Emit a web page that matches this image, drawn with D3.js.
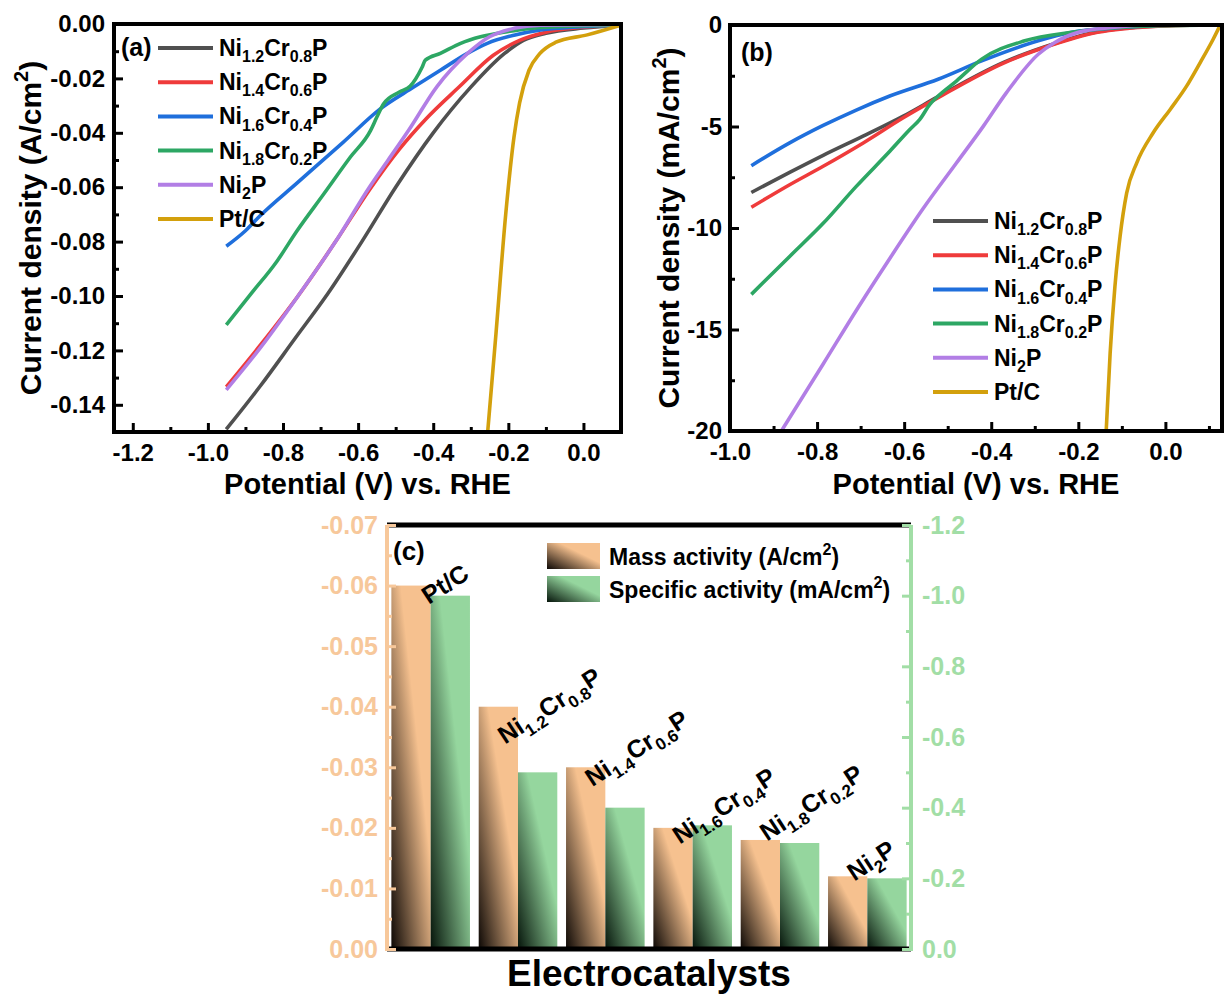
<!DOCTYPE html>
<html lang="en">
<head>
<meta charset="UTF-8">
<title>LSV curves and activities</title>
<script src="https://d3js.org/d3.v7.min.js"></script>
<style>
  body, html { margin: 0; background: #fff; }
  svg { display: block; font-family: "Liberation Sans", Arial, sans-serif; font-weight: bold; }
</style>
</head>
<body>
<svg width="1225" height="997"></svg>
<script>
// ---- data ----
// names use {..} for subscripts and [..] for superscripts
const seriesNames = ["Ni{1.2}Cr{0.8}P", "Ni{1.4}Cr{0.6}P", "Ni{1.6}Cr{0.4}P", "Ni{1.8}Cr{0.2}P", "Ni{2}P", "Pt/C"];
const seriesColors = ["#505050", "#ef3b3b", "#1f6fdc", "#2da764", "#b27ee5", "#d3a00c"];

// panel (a): [potential V, current density A/cm2]
const aNi12Cr08P = [[-0.951,-0.149],[-0.86,-0.133],[-0.77,-0.116],[-0.68,-0.099],[-0.59,-0.080],[-0.50,-0.060],[-0.40,-0.040],[-0.30,-0.0232],[-0.21,-0.0108],[-0.16,-0.006],[-0.10,-0.0034],[0.0,-0.0015],[0.1,-0.0004]];
const aNi14Cr06P = [[-0.951,-0.1334],[-0.86,-0.118],[-0.76,-0.100],[-0.66,-0.080],[-0.57,-0.061],[-0.49,-0.046],[-0.42,-0.035],[-0.33,-0.023],[-0.24,-0.0115],[-0.17,-0.006],[-0.10,-0.003],[0.0,-0.0012],[0.1,-0.0004]];
const aNi16Cr04P = [[-0.951,-0.0817],[-0.90,-0.0760],[-0.861,-0.0705],[-0.763,-0.0585],[-0.64,-0.0435],[-0.541,-0.0312],[-0.452,-0.0232],[-0.381,-0.0170],[-0.309,-0.0108],[-0.256,-0.0071],[-0.185,-0.0041],[-0.114,-0.0022],[-0.007,-0.0010],[0.1,-0.0004]];
const aNi18Cr02P = [[-0.951,-0.1106],[-0.887,-0.0995],[-0.816,-0.0872],[-0.763,-0.0761],[-0.692,-0.0626],[-0.621,-0.0490],[-0.567,-0.0392],[-0.550,-0.0342],[-0.532,-0.0293],[-0.49,-0.0250],[-0.461,-0.0228],[-0.43,-0.0160],[-0.421,-0.0133],[-0.381,-0.0108],[-0.327,-0.0071],[-0.274,-0.0047],[-0.203,-0.0028],[-0.141,-0.0016],[-0.016,-0.0007],[0.1,-0.0004]];
const aNi2P = [[-0.951,-0.1345],[-0.86,-0.119],[-0.76,-0.100],[-0.66,-0.080],[-0.57,-0.060],[-0.52,-0.050],[-0.465,-0.039],[-0.39,-0.023],[-0.31,-0.011],[-0.25,-0.0047],[-0.185,-0.0016],[-0.114,-0.0004],[0.1,-0.0002]];
const aPtC = [[-0.255,-0.150],[-0.233,-0.114],[-0.207,-0.0700],[-0.185,-0.0416],[-0.170,-0.0290],[-0.145,-0.0170],[-0.117,-0.0110],[-0.075,-0.0068],[0.01,-0.0040],[0.1,-0.0004]];

// panel (b): [potential V, current density mA/cm2]
const bNi12Cr08P = [[-0.951,-8.25],[-0.863,-7.26],[-0.786,-6.42],[-0.687,-5.40],[-0.602,-4.49],[-0.522,-3.53],[-0.369,-1.82],[-0.254,-0.91],[-0.177,-0.43],[-0.062,-0.10],[0.057,-0.01],[0.13,0]];
const bNi14Cr06P = [[-0.951,-8.98],[-0.863,-7.87],[-0.786,-6.96],[-0.694,-5.81],[-0.602,-4.57],[-0.522,-3.58],[-0.369,-1.85],[-0.254,-0.94],[-0.177,-0.45],[-0.062,-0.12],[0.057,-0.01],[0.13,0]];
const bNi16Cr04P = [[-0.951,-6.93],[-0.863,-5.81],[-0.786,-4.95],[-0.710,-4.19],[-0.633,-3.50],[-0.522,-2.67],[-0.422,-1.77],[-0.292,-0.78],[-0.215,-0.36],[-0.100,-0.12],[0.057,0],[0.13,0]];
const bNi18Cr02P = [[-0.951,-13.27],[-0.863,-11.40],[-0.786,-9.77],[-0.710,-7.95],[-0.633,-6.22],[-0.587,-5.15],[-0.564,-4.65],[-0.541,-3.91],[-0.522,-3.50],[-0.480,-2.76],[-0.422,-1.68],[-0.323,-0.78],[-0.215,-0.36],[-0.139,-0.17],[-0.020,-0.03],[0.13,0]];
const bNi2P = [[-0.882,-20.0],[-0.786,-16.7],[-0.710,-14.06],[-0.633,-11.5],[-0.556,-9.03],[-0.480,-6.80],[-0.418,-4.98],[-0.365,-3.33],[-0.292,-1.44],[-0.254,-0.86],[-0.200,-0.36],[-0.123,-0.12],[-0.020,0],[0.13,0]];
const bPtC = [[-0.136,-20],[-0.127,-16.2],[-0.116,-12.9],[-0.104,-10.4],[-0.089,-8.28],[-0.066,-6.80],[-0.028,-5.31],[0.011,-4.16],[0.049,-3.00],[0.080,-1.85],[0.110,-0.69],[0.126,0]];

// panel (c)
const catalysts = ["Pt/C", "Ni{1.2}Cr{0.8}P", "Ni{1.4}Cr{0.6}P", "Ni{1.6}Cr{0.4}P", "Ni{1.8}Cr{0.2}P", "Ni{2}P"];
const massActivity = [-0.060, -0.040, -0.030, -0.020, -0.018, -0.012];       // A/cm2
const specificActivity = [-1.00, -0.50, -0.40, -0.35, -0.30, -0.20];         // mA/cm2
const labelAt = [-0.0568, -0.0337, -0.0267, -0.0172, -0.0177, -0.0111];       // label anchor, left-axis units

const svg = d3.select("svg");
const defs = svg.append("defs");

// text with sub/superscripts
function richText(sel, str, size) {
    const small = Math.round(size * 0.68);
    let cur = 0;
    str.split(/(\{[^}]*\}|\[[^\]]*\])/).filter(s => s).forEach(s => {
        let off = 0, fs = size, t = s;
        if (s[0] === "{") { off = size * 0.27; fs = small; t = s.slice(1, -1); }
        else if (s[0] === "[") { off = -size * 0.42; fs = small; t = s.slice(1, -1); }
        sel.append("tspan").attr("font-size", fs).attr("dy", (off - cur).toFixed(2)).text(t);
        cur = off;
    });
    return sel;
}

function styleAxis(g, color, size) {
    g.attr("font-size", null).attr("font-family", null);
    g.select(".domain").remove();
    g.selectAll(".tick line").attr("stroke", color).attr("stroke-width", 3);
    g.selectAll(".tick text").attr("fill", color).style("font-size", size + "px");
}

const line = (x, y) => d3.line().x(d => x(d[0])).y(d => y(d[1])).curve(d3.curveMonotoneX);

// ---- LSV panels ----
function lsvPanel(p) {
    const x = d3.scaleLinear().domain(p.xDomain).range([p.left, p.right]);
    const y = d3.scaleLinear().domain(p.yDomain).range([p.bottom, p.top]);
    const g = svg.append("g");

    defs.append("clipPath").attr("id", p.id)
        .append("rect").attr("x", p.left).attr("y", p.top)
        .attr("width", p.right - p.left).attr("height", p.bottom - p.top);

    g.append("g").attr("clip-path", `url(#${p.id})`)
        .selectAll("path").data(p.series).join("path")
        .attr("d", d => line(x, y)(d))
        .attr("fill", "none")
        .attr("stroke", (d, i) => seriesColors[i])
        .attr("stroke-width", 3.6)
        .attr("stroke-linejoin", "round");

    // minor ticks
    g.append("g").attr("transform", `translate(0,${p.bottom})`)
        .call(d3.axisBottom(x).tickValues(p.xMinor).tickSize(-5).tickFormat(""))
        .call(s => styleAxis(s, "#000", 24));
    g.append("g").attr("transform", `translate(${p.left},0)`)
        .call(d3.axisLeft(y).tickValues(p.yMinor).tickSize(-5).tickFormat(""))
        .call(s => styleAxis(s, "#000", 24));
    // major ticks
    g.append("g").attr("transform", `translate(0,${p.bottom})`)
        .call(d3.axisBottom(x).tickValues(p.xTicks).tickSize(-9).tickPadding(12).tickFormat(d => d.toFixed(1)))
        .call(s => styleAxis(s, "#000", 24));
    g.append("g").attr("transform", `translate(${p.left},0)`)
        .call(d3.axisLeft(y).tickValues(p.yTicks).tickSize(-9).tickPadding(p.yPad).tickFormat(p.yFormat))
        .call(s => styleAxis(s, "#000", 24));

    g.append("rect").attr("x", p.left).attr("y", p.top)
        .attr("width", p.right - p.left).attr("height", p.bottom - p.top)
        .attr("fill", "none").attr("stroke", "#000").attr("stroke-width", 4);

    g.append("text").attr("x", p.tagX).attr("y", p.tagY).attr("font-size", 25).text(p.tag);

    // legend
    const lg = g.append("g").selectAll("g").data(seriesNames).join("g")
        .attr("transform", (d, i) => `translate(${p.legX},${p.legY + i * 34.2})`);
    lg.append("line").attr("x1", 0).attr("x2", 55)
        .attr("stroke", (d, i) => seriesColors[i]).attr("stroke-width", 4);
    lg.append("text").attr("x", 61).attr("y", 8).each(function (d) { richText(d3.select(this), d, 23); });

    // axis titles
    g.append("text").attr("x", (p.left + p.right) / 2).attr("y", 494)
        .attr("text-anchor", "middle").attr("font-size", 29).text("Potential (V) vs. RHE");
    richText(g.append("text").attr("text-anchor", "middle")
        .attr("transform", `translate(${p.yTitleX},${(p.top + p.bottom) / 2}) rotate(-90)`), p.yTitle, 30);
}

lsvPanel({
    id: "clipA", left: 114, right: 621, top: 24, bottom: 432,
    xDomain: [-1.25, 0.1], yDomain: [-0.15, 0],
    xTicks: d3.range(7).map(i => -1.2 + i * 0.2),
    xMinor: d3.range(7).map(i => -1.1 + i * 0.2),
    yTicks: d3.range(8).map(i => -i * 0.02),
    yMinor: d3.range(8).map(i => -0.01 - i * 0.02),
    yFormat: d => d.toFixed(2), yPad: 9,
    series: [aNi12Cr08P, aNi14Cr06P, aNi16Cr04P, aNi18Cr02P, aNi2P, aPtC],
    tag: "(a)", tagX: 121, tagY: 56,
    legX: 158, legY: 48,
    yTitle: "Current density (A/cm[2])", yTitleX: 41
});

lsvPanel({
    id: "clipB", left: 730, right: 1222, top: 25, bottom: 431,
    xDomain: [-1.0, 0.13], yDomain: [-20, 0],
    xTicks: d3.range(6).map(i => -1.0 + i * 0.2),
    xMinor: d3.range(6).map(i => -0.9 + i * 0.2),
    yTicks: d3.range(5).map(i => -i * 5),
    yMinor: d3.range(4).map(i => -2.5 - i * 5),
    yFormat: d => d.toFixed(0), yPad: 8,
    series: [bNi12Cr08P, bNi14Cr06P, bNi16Cr04P, bNi18Cr02P, bNi2P, bPtC],
    tag: "(b)", tagX: 741, tagY: 61,
    legX: 933, legY: 221,
    yTitle: "Current density (mA/cm[2])", yTitleX: 679
});

// ---- panel (c) bars ----
const orange = "#f7c89b", green = "#a2dea6";
function grad(id, dark, light) {
    const gr = defs.append("linearGradient").attr("id", id)
        .attr("x1", 0).attr("y1", 1).attr("x2", 1).attr("y2", 0);
    gr.append("stop").attr("offset", 0).attr("stop-color", dark);
    gr.append("stop").attr("offset", 0.62).attr("stop-color", light);
    gr.append("stop").attr("offset", 1).attr("stop-color", light);
}
grad("gMass", "#0d0805", "#f6c18f");
grad("gSpec", "#06150b", "#95d69e");

const cL = 387, cR = 911, cT = 525, cB = 949;
const xC = d3.scaleBand().domain(catalysts).range([cL, cR]).paddingInner(0.1).paddingOuter(0.05);
const xSub = d3.scaleBand().domain(["mass", "spec"]).range([0, xC.bandwidth()]);
const yL = d3.scaleLinear().domain([0, -0.07]).range([cB, cT]);
const yR = d3.scaleLinear().domain([0, -1.2]).range([cB, cT]);

const gc = svg.append("g");
gc.append("g").selectAll("rect").data(catalysts).join("rect")
    .attr("x", d => xC(d) + xSub("mass"))
    .attr("y", (d, i) => yL(massActivity[i]))
    .attr("width", xSub.bandwidth())
    .attr("height", (d, i) => yL(0) - yL(massActivity[i]))
    .attr("fill", "url(#gMass)");
gc.append("g").selectAll("rect").data(catalysts).join("rect")
    .attr("x", d => xC(d) + xSub("spec"))
    .attr("y", (d, i) => yR(specificActivity[i]))
    .attr("width", xSub.bandwidth())
    .attr("height", (d, i) => yR(0) - yR(specificActivity[i]))
    .attr("fill", "url(#gSpec)");

// rotated catalyst labels
gc.append("g").selectAll("text").data(catalysts).join("text")
    .attr("transform", (d, i) => `translate(${xC(d) + xC.bandwidth() / 2 - (i ? 13 : 2)},${yL(labelAt[i])}) rotate(-33)`)
    .each(function (d) { richText(d3.select(this), d, 25); });

// frame lines
gc.append("line").attr("x1", cL).attr("x2", cR).attr("y1", cT).attr("y2", cT).attr("stroke", "#000").attr("stroke-width", 5);
gc.append("line").attr("x1", cL).attr("x2", cR).attr("y1", cB).attr("y2", cB).attr("stroke", "#000").attr("stroke-width", 5);

// left axis (mass activity)
gc.append("g").attr("transform", `translate(${cL},0)`)
    .call(d3.axisLeft(yL).tickValues(d3.range(7).map(i => -0.005 - i * 0.01)).tickSize(-5).tickFormat(""))
    .call(s => styleAxis(s, orange, 25));
gc.append("g").attr("transform", `translate(${cL},0)`)
    .call(d3.axisLeft(yL).tickValues(d3.range(8).map(i => -i * 0.01)).tickSize(-9).tickPadding(9).tickFormat(d => d.toFixed(2)))
    .call(s => styleAxis(s, orange, 25));
gc.append("line").attr("x1", cL).attr("x2", cL).attr("y1", cT).attr("y2", cB + 2).attr("stroke", orange).attr("stroke-width", 4);

// right axis (specific activity)
gc.append("g").attr("transform", `translate(${cR},0)`)
    .call(d3.axisRight(yR).tickValues(d3.range(6).map(i => -0.1 - i * 0.2)).tickSize(-5).tickFormat(""))
    .call(s => styleAxis(s, green, 25));
gc.append("g").attr("transform", `translate(${cR},0)`)
    .call(d3.axisRight(yR).tickValues(d3.range(7).map(i => -i * 0.2)).tickSize(-9).tickPadding(11).tickFormat(d => d.toFixed(1)))
    .call(s => styleAxis(s, green, 25));
gc.append("line").attr("x1", cR).attr("x2", cR).attr("y1", cT).attr("y2", cB + 2).attr("stroke", green).attr("stroke-width", 4);

gc.append("text").attr("x", 393).attr("y", 560).attr("font-size", 26).text("(c)");

// legend (c)
const legC = [["gMass", "Mass activity (A/cm[2])"], ["gSpec", "Specific activity (mA/cm[2])"]];
const lc = gc.append("g").selectAll("g").data(legC).join("g")
    .attr("transform", (d, i) => `translate(547,${543 + i * 33})`);
lc.append("rect").attr("width", 53).attr("height", 26).attr("fill", d => `url(#${d[0]})`);
lc.append("text").attr("x", 62).attr("y", 22).each(function (d) { richText(d3.select(this), d[1], 23); });

gc.append("text").attr("x", (cL + cR) / 2).attr("y", 986)
    .attr("text-anchor", "middle").attr("font-size", 37).text("Electrocatalysts");
</script>
</body>
</html>
